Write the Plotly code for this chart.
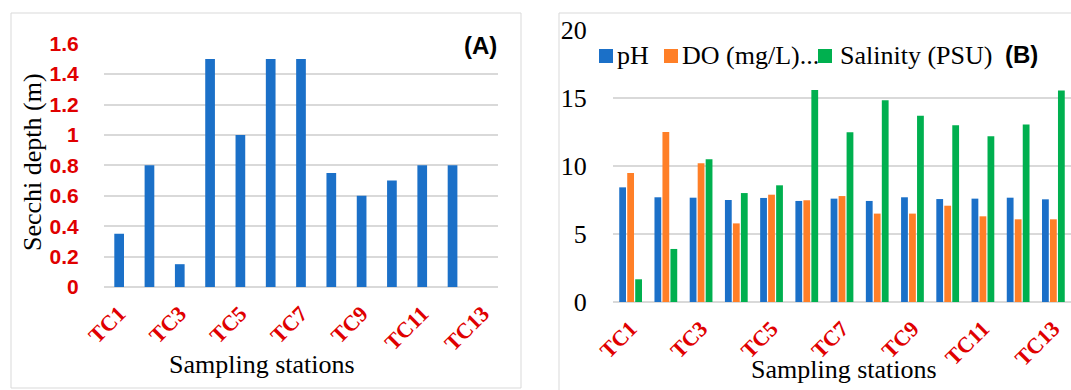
import plotly.graph_objects as go

# ---------------- data ----------------
stations = ["TC1", "TC2", "TC3", "TC4", "TC5", "TC6", "TC7",
            "TC8", "TC9", "TC10", "TC11", "TC12", "TC13"]
tick_stations = ["TC1", "TC3", "TC5", "TC7", "TC9", "TC11", "TC13"]

secchi_depth = [0.35, 0.8, 0.15, 1.5, 1.0, 1.5, 1.5, 0.75, 0.6, 0.7, 0.8, 0.8, None]

ph = [8.43, 7.70, 7.67, 7.50, 7.65, 7.43, 7.60, 7.43, 7.70, 7.57, 7.60, 7.67, 7.55]
do_mgl = [9.49, 12.5, 10.2, 5.78, 7.89, 7.48, 7.79, 6.50, 6.50, 7.08, 6.30, 6.08, 6.08]
salinity = [1.67, 3.90, 10.49, 8.01, 8.58, 15.59, 12.48, 14.83, 13.70, 12.99, 12.18, 13.06, 15.56]

series_names = ["pH", "DO (mg/L)...", "Salinity (PSU)"]

# ---------------- style ----------------
W, H = 1071, 390
BLUE, ORANGE, GREEN = "#1B70C8", "#FF7F27", "#00B04F"
RED = "#E00000"
GRID = "#D9D9D9"
SERIF = "Liberation Serif"
SANS = "Liberation Sans"


def px(x):
    return x / W


def py(y):
    return 1 - y / H


fig = go.Figure()

fig.add_trace(go.Bar(x=stations, y=secchi_depth, marker_color=BLUE, width=0.32,
                     xaxis="x", yaxis="y", showlegend=False, name="Secchi depth"))

for name, vals, col in zip(series_names, [ph, do_mgl, salinity], [BLUE, ORANGE, GREEN]):
    fig.add_trace(go.Bar(x=stations, y=vals, marker_color=col, name=name,
                         xaxis="x2", yaxis="y2", showlegend=False))

xcommon = dict(type="category", range=[-0.5, 12.5], tickmode="array",
               tickvals=tick_stations, ticktext=tick_stations, tickangle=-45,
               tickfont=dict(family=SERIF, size=22, color=RED, weight="bold"),
               showgrid=False, zeroline=False, showline=False,
               ticks="outside", ticklen=4, tickcolor="rgba(0,0,0,0)",
               automargin=False, fixedrange=True)

ycommon = dict(tick0=0, showgrid=True, gridcolor=GRID, gridwidth=1.5,
               zeroline=True, zerolinecolor=GRID, zerolinewidth=1.5, showline=False,
               ticks="outside", ticklen=20, tickcolor="rgba(0,0,0,0)",
               automargin=False, fixedrange=True)

fig.update_layout(
    width=W, height=H, autosize=False,
    margin=dict(l=0, r=0, t=0, b=0),
    paper_bgcolor="white", plot_bgcolor="white",
    template="none",
    barmode="group", bargap=0.32, bargroupgap=0.15,
    showlegend=False,
    xaxis=dict(domain=[px(104), px(498)], anchor="y", **xcommon),
    yaxis=dict(domain=[py(287), py(43.7)], anchor="x", range=[0, 1.6], dtick=0.2,
               tickfont=dict(family=SANS, size=21, color=RED, weight="bold"), **ycommon),
    xaxis2=dict(domain=[px(613), 1.0], anchor="y2", **xcommon),
    yaxis2=dict(domain=[py(302), py(30)], anchor="x2", range=[0, 20], dtick=5,
                tickfont=dict(family=SERIF, size=26, color="black"), **ycommon),
)

# panel borders
fig.add_shape(type="rect", xref="paper", yref="paper", x0=px(11), x1=px(521),
              y0=py(388), y1=py(13), line=dict(color=GRID, width=1), layer="below")
fig.add_shape(type="rect", xref="paper", yref="paper", x0=px(559), x1=px(1090),
              y0=py(400), y1=py(13), line=dict(color=GRID, width=1), layer="below")

ann = dict(xref="paper", yref="paper", showarrow=False, xanchor="center", yanchor="middle")

# axis titles
fig.add_annotation(text="Sampling stations", x=px(262), y=py(364),
                   font=dict(family=SERIF, size=26, color="black"), **ann)
fig.add_annotation(text="Secchi depth (m)", x=px(32), y=py(162), textangle=-90,
                   font=dict(family=SERIF, size=26, color="black"), **ann)
fig.add_annotation(text="Sampling stations", x=px(844), y=py(369),
                   font=dict(family=SERIF, size=26, color="black"), **ann)

# panel labels
fig.add_annotation(text="(A)", x=px(480), y=py(45),
                   font=dict(family=SANS, size=24, color="black", weight="bold"), **ann)
fig.add_annotation(text="(B)", x=px(1021), y=py(55),
                   font=dict(family=SANS, size=24, color="black", weight="bold"), **ann)

# legend (panel B)
legend_items = [(599, 615), (664, 680), (818, 838)]
for (sx, tx), name, col in zip(legend_items, series_names, [BLUE, ORANGE, GREEN]):
    fig.add_annotation(text=name, xref="paper", yref="paper", x=px(tx), y=py(56),
                       xanchor="left", yanchor="middle", showarrow=False,
                       font=dict(family=SERIF, size=26, color="black"))
    fig.add_shape(type="rect", xref="paper", yref="paper", x0=px(sx), x1=px(sx + 14),
                  y0=py(63), y1=py(49), fillcolor=col, line=dict(width=0), layer="above")

fig.write_html("out.html", config={"displayModeBar": False},
               post_script="document.body.style.margin='0px';")
